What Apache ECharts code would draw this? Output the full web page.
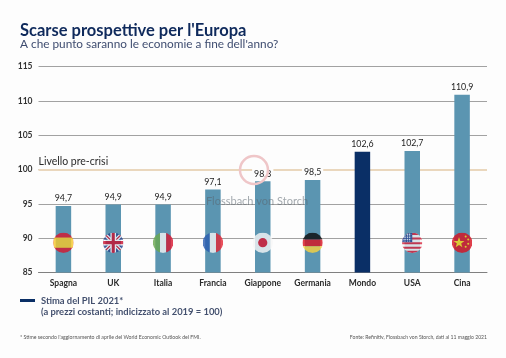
<!DOCTYPE html>
<html><head><meta charset="utf-8">
<style>html,body{margin:0;padding:0;background:#fdfdfd}#c{width:506px;height:358px}</style>
<script src="https://cdn.jsdelivr.net/npm/echarts@6/dist/echarts.min.js"></script>
</head><body><div id="c"></div>
<script>
const categories = ['Spagna','UK','Italia','Francia','Giappone','Germania','Mondo','USA','Cina'];
const gdpValues = [94.7,94.9,94.9,97.1,98.3,98.5,102.6,102.7,110.9];
const yTicks = [85,90,95,100,105,110,115];
const flagLevel = [89.35,89.35,89.35,89.35,89.35,89.35,null,89.35,89.35];
const preCrisisLevel = 100;
const highlighted = 'Mondo';

function svg(inner){
  const s = '<svg xmlns="http://www.w3.org/2000/svg" width="80" height="80" viewBox="0 0 40 40"><defs><clipPath id="a"><circle cx="20" cy="20" r="20"/></clipPath></defs><g clip-path="url(#a)">'+inner+'</g></svg>';
  return 'image://data:image/svg+xml;charset=utf-8,'+encodeURIComponent(s);
}
const flags = {
  Spagna: svg('<rect width="40" height="40" fill="#d8152f"/><rect y="10" width="40" height="20" fill="#f8c92a"/>'),
  UK: svg('<rect width="40" height="40" fill="#24418c"/><path d="M0 0L40 40M40 0L0 40" stroke="#fff" stroke-width="7"/><path d="M0 0L40 40M40 0L0 40" stroke="#c8102e" stroke-width="2.5"/><path d="M20 0V40M0 20H40" stroke="#fff" stroke-width="11"/><path d="M20 0V40M0 20H40" stroke="#c8102e" stroke-width="6"/>'),
  Italia: svg('<rect width="14" height="40" fill="#6aa84f"/><rect x="14" width="12" height="40" fill="#f6f6f6"/><rect x="26" width="14" height="40" fill="#d8152f"/>'),
  Francia: svg('<rect width="14" height="40" fill="#2a5cb0"/><rect x="14" width="12" height="40" fill="#f6f6f6"/><rect x="26" width="14" height="40" fill="#e52534"/>'),
  Giappone: svg('<rect width="40" height="40" fill="#f7f7f7"/><circle cx="20" cy="20" r="9" fill="#d8152f"/>'),
  Germania: svg('<rect width="40" height="14" fill="#0a0a0a"/><rect y="14" width="40" height="13" fill="#d8121f"/><rect y="27" width="40" height="13" fill="#f9d33f"/>'),
  USA: svg('<rect width="40" height="40" fill="#f6f6f6"/><path d="M0 3H40M0 12H40M0 21H40M0 30H40M0 38H40" stroke="#d8203a" stroke-width="4"/><rect width="20" height="19" fill="#25408f"/><path d="M3 4H18M3 9H18M3 14H18M6 2V18M11 2V18M15 2V18" stroke="#fff" stroke-width="1.6" stroke-dasharray="2 1.5"/>'),
  Cina: svg('<rect width="40" height="40" fill="#d8101f"/><path d="M14 9l2.6 7.6h8l-6.4 4.8 2.4 7.6-6.6-4.6-6.6 4.6 2.4-7.6-6.4-4.8h8z" fill="#f9d616"/><circle cx="27" cy="8" r="2" fill="#f9d616"/><circle cx="32" cy="14" r="2" fill="#f9d616"/><circle cx="32" cy="22" r="2" fill="#f9d616"/><circle cx="27" cy="28" r="2" fill="#f9d616"/>')
};

const font = 'Lato, "Open Sans", sans-serif';
const chart = echarts.init(document.getElementById('c'), null, {renderer:'canvas'});
chart.setOption({
  animation:false,
  backgroundColor:'#fdfdfd',
  grid:{left:38.5,right:19,top:66.7,bottom:85.5,containLabel:false},
  xAxis:{type:'category',data:categories,
    axisLine:{lineStyle:{color:'#808080',width:1}},axisTick:{show:false},
    axisLabel:{color:'#2a2a2a',fontFamily:font,fontSize:8.5,fontWeight:700,margin:6}},
  yAxis:{type:'value',min:85,max:115,interval:5,
    axisLine:{show:false},axisTick:{show:false},
    axisLabel:{color:'#333',fontFamily:font,fontSize:8.5,fontWeight:700,margin:6,customValues:yTicks},
    splitLine:{lineStyle:{color:'#a2a2a2',width:1}}},
  legend:{left:20,top:296,orient:'vertical',itemWidth:15,itemHeight:3,
    icon:'rect',selectedMode:false,padding:0,itemGap:0,
    data:[{name:'Stima del PIL 2021*',itemStyle:{color:'#0a2f66'}}],
    textStyle:{color:'#43506e',fontFamily:font,fontSize:9.4,fontWeight:700,padding:[0,0,0,1]}},
  series:[
    {type:'bar',name:'Stima del PIL 2021*',data:gdpValues.map((v,i)=>({value:v,itemStyle:{color:categories[i]===highlighted?'#0a2f66':'#5b95b1'}})),
     barWidth:15.5,z:3,
     itemStyle:{color:'#0a2f66'},
     label:{show:true,position:'top',distance:3,color:'#222',fontFamily:font,fontSize:8.8,
       backgroundColor:'#fdfdfd',padding:[1,2,0,2],
       formatter:p=>p.value.toFixed(1).replace('.',',')},
     markLine:{silent:true,symbol:'none',z:1,
       lineStyle:{color:'#ead7bd',width:2,type:'solid'},
       label:{show:true,position:'insideStartTop',formatter:'Livello pre-crisi',color:'#2a2a2a',fontFamily:font,fontSize:10.5,distance:[0,2]},
       data:[{yAxis:preCrisisLevel}]}},
    {type:'scatter',name:'Bandiere',z:5,
     data:categories.map((c,i)=>flagLevel[i]==null?null:{value:[c,flagLevel[i]],symbol:flags[c]}).filter(Boolean),
     symbolSize:20.5,silent:true}
  ],
  graphic:[
    {type:'text',left:20,top:22,z:20,style:{text:"Scarse prospettive per l'Europa",fill:'#0f2a5c',font:'700 16.5px '+font}},
    {type:'text',left:20,top:38,z:20,style:{text:"A che punto saranno le economie a fine dell'anno?",fill:'#3f4d70',font:'400 11.8px '+font}},
    {type:'text',left:41,top:307,z:20,style:{text:'(a prezzi costanti; indicizzato al 2019 = 100)',fill:'#43506e',font:'700 9.4px '+font}},
    {type:'circle',shape:{cx:254,cy:170,r:14},z:20,style:{fill:'none',stroke:'#efc6c8',lineWidth:2.5}},
    {type:'text',left:206,top:196,z:20,style:{text:'Flossbach von Storch',fill:'rgba(90,100,110,0.55)',font:'400 11px '+font}},
    {type:'text',left:20,top:335,z:20,style:{text:"* Stime secondo l'aggiornamento di aprile del World Economic Outlook del FMI.",fill:'#555',font:'400 5.2px '+font}},
    {type:'text',right:19,top:335,z:20,style:{text:'Fonte: Refinitiv, Flossbach von Storch, dati al 11 maggio 2021',fill:'#555',font:'400 5.1px '+font}}
  ]
});
</script></body></html>
